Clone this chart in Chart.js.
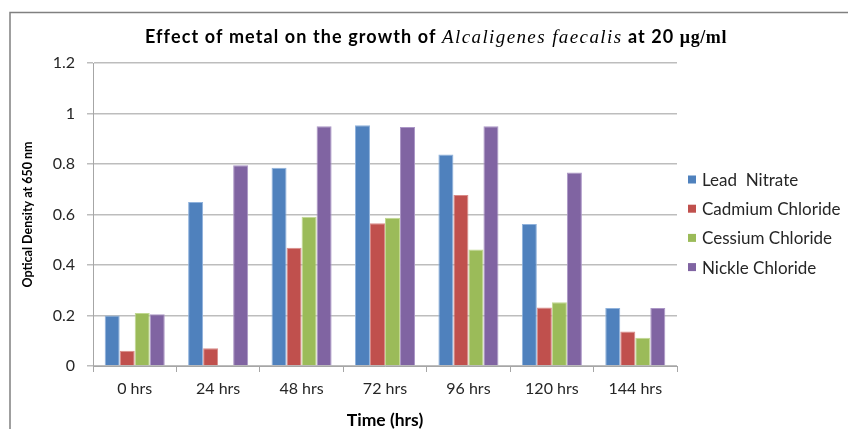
<!DOCTYPE html>
<html>
<head>
<meta charset="utf-8">
<title>Effect of metal on the growth of Alcaligenes faecalis</title>
<script src="https://cdn.jsdelivr.net/npm/chart.js@4.4.1/dist/chart.umd.min.js"></script>
<style>
  html, body { margin: 0; padding: 0; background: #ffffff; }
  #wrap { width: 848px; height: 429px; position: relative; }
  canvas { display: block; }
</style>
</head>
<body>
<div id="wrap"><canvas id="chart" width="848" height="429"></canvas></div>
<script>
// Sampling times
const categories = ['0 hrs', '24 hrs', '48 hrs', '72 hrs', '96 hrs', '120 hrs', '144 hrs'];

// Optical density at 650 nm for each metal salt
const leadNitrate      = [0.20, 0.65, 0.785, 0.953, 0.838, 0.562, 0.23];
const cadmiumChloride  = [0.06, 0.07, 0.468, 0.565, 0.677, 0.232, 0.137];
const cessiumChloride  = [0.21, 0,    0.591, 0.587, 0.461, 0.252, 0.112];
const nickleChloride   = [0.205, 0.795, 0.95, 0.947, 0.95, 0.766, 0.23];

const seriesNames = ['Lead  Nitrate', 'Cadmium Chloride', 'Cessium Chloride', 'Nickle Chloride'];
const yTicks = [0, 0.2, 0.4, 0.6, 0.8, 1, 1.2];

const fills   = ['#4F81BD', '#C0504D', '#9BBB59', '#8064A2'];
const edges   = ['#8fb2dc', '#d98a88', '#c0d890', '#ab96c6'];

const SANS = 'Lato, "Open Sans", "DejaVu Sans", sans-serif';
const SERIF = '"Liberation Serif", "DejaVu Serif", serif';

// Title with a mixed-style species name
const titleParts = [
  { text: 'Effect of metal on the growth of ', font: 'bold 18px ' + SANS, spacing: 1.1 },
  { text: 'Alcaligenes faecalis', font: 'italic 19px ' + SERIF, spacing: 1.4 },
  { text: ' at 20 ', font: 'bold 18px ' + SANS, spacing: 1.1 },
  { text: 'μg/ml', font: 'bold 18px ' + SERIF, spacing: 0.6 }
];

const titlePlugin = {
  id: 'mixedTitle',
  afterDraw(chart) {
    const ctx = chart.ctx;
    ctx.save();
    const widthOf = p => {
      ctx.font = p.font;
      ctx.letterSpacing = p.spacing + 'px';
      return ctx.measureText(p.text).width;
    };
    let total = 0;
    titleParts.forEach(p => { total += widthOf(p); });
    let x = 436 - total / 2;
    const y = 43;
    ctx.fillStyle = '#000000';
    ctx.textBaseline = 'alphabetic';
    ctx.textAlign = 'left';
    titleParts.forEach(p => {
      const w = widthOf(p);
      ctx.fillText(p.text, x, y);
      x += w;
    });
    ctx.letterSpacing = '0px';
    ctx.restore();
  }
};

// Outer frame of the chart object (top and left edges)
const framePlugin = {
  id: 'frame',
  beforeDraw(chart) {
    const ctx = chart.ctx;
    ctx.save();
    ctx.strokeStyle = '#808080';
    ctx.lineWidth = 1.5;
    ctx.beginPath();
    ctx.moveTo(10, chart.height + 2);
    ctx.lineTo(10, 12.5);
    ctx.lineTo(chart.width + 2, 12.5);
    ctx.stroke();
    ctx.restore();
  }
};

// Vertical legend to the right of the plot
const legendPlugin = {
  id: 'sideLegend',
  afterDraw(chart) {
    const ctx = chart.ctx;
    ctx.save();
    ctx.font = '17px ' + SANS;
    ctx.textBaseline = 'middle';
    ctx.textAlign = 'left';
    chart.data.datasets.forEach((ds, i) => {
      const cy = 179.5 + i * 29.2;
      ctx.fillStyle = ds.backgroundColor;
      ctx.fillRect(688, cy - 4, 8, 8);
      ctx.fillStyle = '#262626';
      ctx.fillText(ds.label, 702, cy + 1);
    });
    ctx.restore();
  }
};

const seriesValues = [leadNitrate, cadmiumChloride, cessiumChloride, nickleChloride];

new Chart(document.getElementById('chart'), {
  type: 'bar',
  data: {
    labels: categories,
    datasets: seriesValues.map((vals, i) => ({
      label: seriesNames[i],
      data: vals,
      backgroundColor: fills[i],
      borderColor: edges[i],
      borderWidth: 1,
      categoryPercentage: 0.72,
      barPercentage: 1.0
    }))
  },
  options: {
    responsive: false,
    devicePixelRatio: 1,
    animation: false,
    layout: { padding: { left: 0, right: 171, top: 63, bottom: 0 }, autoPadding: false },
    plugins: {
      legend: { display: false },
      title: { display: false },
      tooltip: { enabled: false }
    },
    scales: {
      x: {
        grid: { drawOnChartArea: false, drawTicks: true, tickLength: 6, color: '#a6a6a6', offset: true },
        border: { color: '#a6a6a6', width: 1 },
        ticks: { font: { family: SANS, size: 16 }, color: '#262626', padding: 7, maxRotation: 0 },
        title: { display: true, text: 'Time (hrs)', font: { family: SANS, size: 17.5, weight: 'bold' }, color: '#000000', padding: { top: 0, bottom: -2 } },
        afterFit(scale) { scale.height = 63; }
      },
      y: {
        min: 0,
        max: 1.2,
        afterBuildTicks(scale) { scale.ticks = yTicks.map(v => ({ value: v })); },
        grid: { color: '#bdbdbd', lineWidth: 1.5, drawTicks: true, tickLength: 6 },
        border: { color: '#a6a6a6', width: 1 },
        ticks: { font: { family: SANS, size: 16 }, color: '#262626', padding: 12,
                 callback: v => String(Math.round(v * 10) / 10) },
        title: { display: true, text: 'Optical Density at 650 nm', font: { family: SANS, size: 12.5, weight: 'bold' }, color: '#000000', padding: { top: 20, bottom: 0 } },
        afterFit(scale) { scale.width = 93; }
      }
    }
  },
  plugins: [framePlugin, titlePlugin, legendPlugin]
});
</script>
</body>
</html>
